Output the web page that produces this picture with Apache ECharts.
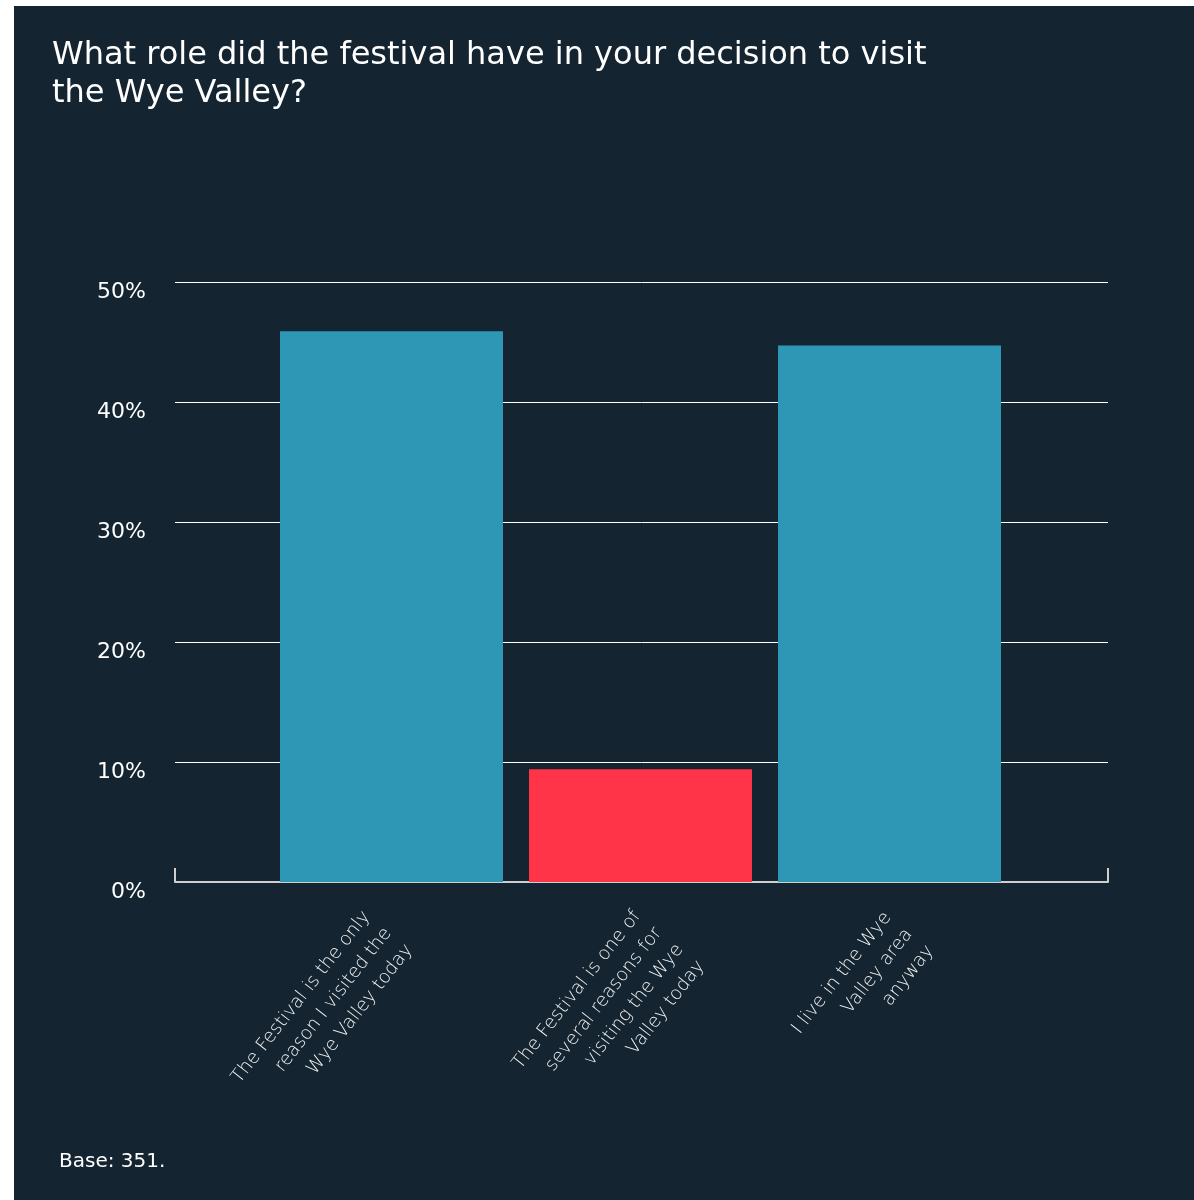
<!DOCTYPE html>
<html>
<head>
<meta charset="utf-8">
<title>Festival role in visiting the Wye Valley</title>
<script src="https://cdn.jsdelivr.net/npm/echarts@6/dist/echarts.min.js"></script>
<style>
  html, body { margin: 0; padding: 0; background: #ffffff; }
  #chart { position: absolute; left: 14px; top: 6px; width: 1180px; height: 1194px; }
</style>
</head>
<body>
<div id="chart"></div>
<script>
// Survey answers (share of respondents, %)
const categories = [
  'The Festival is the only\nreason I visited the\nWye Valley today',
  'The Festival is one of\nseveral reasons for\nvisiting the Wye\nValley today',
  'I live in the Wye\nValley area\nanyway'
];
const shares = [45.9, 9.4, 44.7];
const barColors = ['#2e97b5', '#ff3448', '#2e97b5'];
const yTicks = [0, 10, 20, 30, 40, 50];

const titleText = 'What role did the festival have in your decision to visit\nthe Wye Valley?';
const noteText = 'Base: 351.';

const FONT = '"DejaVu Sans", "Noto Sans", sans-serif';
const BG = '#142531';

// plot frame (px inside the chart box)
const frame = { left: 161, right: 86, top: 276, bottom: 318 };
// bar band: three slots of 249 px
const barBand = { left: 253, right: 180 };
// rotated caption anchors: x centre and distance below the baseline
const captionX = [374, 655, 895];
const captionGap = [48, 56, 49];
const CAPTION_ROTATE = 52;

const grids = [
  { left: frame.left, right: frame.right, top: frame.top, bottom: frame.bottom },
  { left: barBand.left, right: barBand.right, top: frame.top, bottom: frame.bottom }
];
const xAxes = [
  {
    gridIndex: 0,
    type: 'category',
    data: [''],
    boundaryGap: true,
    axisLine: { show: true, lineStyle: { color: '#cfcfcf', width: 2 } },
    axisTick: { show: true, inside: true, length: 14, lineStyle: { color: '#cfcfcf', width: 2 } },
    axisLabel: { show: false }
  },
  {
    gridIndex: 1,
    type: 'category',
    data: categories,
    axisLine: { show: false },
    axisTick: { show: false },
    axisLabel: { show: false }
  }
];
const yAxes = [
  {
    gridIndex: 0,
    type: 'value',
    min: 0,
    max: 50,
    interval: 10,
    axisLine: { show: false },
    axisTick: { show: false },
    splitLine: { show: true, lineStyle: { color: '#ffffff', width: 1 } },
    axisLabel: {
      margin: 29,
      color: '#ffffff',
      fontFamily: FONT,
      fontSize: 22,
      verticalAlign: 'top',
      lineHeight: 20,
      formatter: v => (yTicks.indexOf(v) >= 0 ? v + '%' : '')
    }
  },
  { gridIndex: 1, type: 'value', min: 0, max: 50, interval: 10, show: false }
];

// one small grid per caption so each rotated block sits where it should
categories.forEach((cat, i) => {
  const g = grids.length;
  grids.push({ left: captionX[i] - 40, width: 80, top: frame.top, bottom: frame.bottom });
  xAxes.push({
    gridIndex: g,
    type: 'category',
    data: [cat],
    axisLine: { show: false },
    axisTick: { show: false },
    axisLabel: {
      show: true,
      interval: 0,
      rotate: CAPTION_ROTATE,
      margin: captionGap[i],
      color: '#f2f2f2',
      fontFamily: FONT,
      fontSize: 18.5,
      fontWeight: 200,
      lineHeight: 27
    }
  });
  yAxes.push({ gridIndex: g, type: 'value', min: 0, max: 50, show: false });
});

const chart = echarts.init(document.getElementById('chart'), null, { renderer: 'canvas' });

chart.setOption({
  backgroundColor: BG,
  animation: false,
  title: [
    {
      text: titleText,
      left: 38,
      top: 31,
      padding: 0,
      textStyle: {
        color: '#ffffff',
        fontFamily: FONT,
        fontSize: 32,
        fontWeight: 'normal',
        lineHeight: 38
      }
    },
    {
      text: noteText,
      left: 45,
      top: 1146,
      padding: 0,
      textStyle: {
        color: '#ffffff',
        fontFamily: FONT,
        fontSize: 20,
        fontWeight: 'normal'
      }
    }
  ],
  grid: grids,
  xAxis: xAxes,
  yAxis: yAxes,
  series: [
    {
      type: 'bar',
      xAxisIndex: 1,
      yAxisIndex: 1,
      barWidth: 223,
      data: shares.map((v, i) => ({ value: v, itemStyle: { color: barColors[i] } })),
      z: 3
    }
  ]
});
</script>
</body>
</html>
